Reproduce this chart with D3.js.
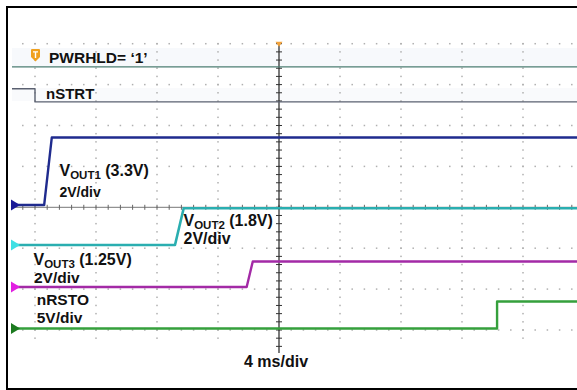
<!DOCTYPE html>
<html>
<head>
<meta charset="utf-8">
<script src="https://cdn.jsdelivr.net/npm/d3@7"></script>
<style>
  html, body { margin: 0; padding: 0; background: #fff; }
  svg { display: block; }
  text { font-family: "Liberation Sans", Arial, sans-serif; font-weight: bold; fill: #111; }
</style>
</head>
<body>
<script>
// Sequence captured on a 4-channel scope plus two logic lines (time in ms, relative to trigger)
const pwrhldT = [-17.6, 19.6];
const pwrhldLvl = [1, 1];
const nstrtT = [-17.6, -16.0, -16.0, 19.6];
const nstrtLvl = [1, 1, 0, 0];
const vout1T = [-17.6, -15.4, -14.9, 19.6];
const vout1V = [0, 0, 3.3, 3.3];
const vout2T = [-17.6, -6.82, -6.25, 19.6];
const vout2V = [0, 0, 1.8, 1.8];
const vout3T = [-17.6, -2.12, -1.72, 19.6];
const vout3V = [0, 0, 1.25, 1.25];
const nrstoT = [-17.6, 14.3, 14.3, 19.6];
const nrstoV = [0, 0, 3.3, 3.3];
const timeDivMs = 4;
const timeTicks = d3.range(-16, 17, 4);
const vDivTicks = d3.range(-3, 5, 1);

const W = 577, H = 390;
const svg = d3.select("body").append("svg").attr("width", W).attr("height", H);

// Screen: 10 horizontal divisions, 8 vertical divisions
const x = d3.scaleLinear().domain([-5 * timeDivMs, 5 * timeDivMs]).range([279 - 5 * 61, 279 + 5 * 61]);
const yDiv = d3.scaleLinear().domain([-4, 4]).range([207.3 + 4 * 40.9, 207.3 - 4 * 40.9]);

const plotL = 12, plotR = 577, gridTop = yDiv(4), gridBot = 346;

svg.append("defs").append("clipPath").attr("id", "plot")
  .append("rect").attr("x", plotL).attr("y", 30).attr("width", plotR - plotL).attr("height", 330);

// Faint persistence bands above the logic lines
svg.append("rect").attr("x", plotL).attr("y", 48).attr("width", plotR - plotL).attr("height", 18).attr("fill", "#f7f9fc");
svg.append("rect").attr("x", plotL).attr("y", 88).attr("width", plotR - plotL).attr("height", 13).attr("fill", "#f9fafc");

// Graticule dots
const grid = svg.append("g").attr("fill", "#b0b0b0");
timeTicks.forEach(t => {
  if (t === 0) return;
  const gx = x(t);
  for (let d = 4; yDiv(d) <= gridBot; d -= 0.2) {
    grid.append("rect").attr("x", gx - 0.75).attr("y", yDiv(d) - 0.75).attr("width", 1.5).attr("height", 1.5);
  }
});
vDivTicks.forEach(d => {
  if (d === 0) return;
  const gy = yDiv(d);
  for (let t = -20; t <= 20.01; t += timeDivMs / 5) {
    const px = x(t);
    if (px < plotL || px > plotR) continue;
    grid.append("rect").attr("x", px - 0.75).attr("y", gy - 0.75).attr("width", 1.5).attr("height", 1.5);
  }
});

// Centre axes with minor ticks
const axes = svg.append("g");
axes.append("line").attr("x1", plotL).attr("x2", plotR).attr("y1", yDiv(0)).attr("y2", yDiv(0))
  .attr("stroke", "#777").attr("stroke-width", 1);
for (let t = -20; t <= 20.01; t += timeDivMs / 5) {
  const px = x(t);
  if (px < plotL || px > plotR) continue;
  axes.append("line").attr("x1", px).attr("x2", px).attr("y1", yDiv(0) - 2.5).attr("y2", yDiv(0) + 2.5)
    .attr("stroke", "#666").attr("stroke-width", 1);
}
axes.append("line").attr("x1", x(0)).attr("x2", x(0)).attr("y1", gridTop).attr("y2", 353)
  .attr("stroke", "#222").attr("stroke-width", 1.2);
for (let d = 4; yDiv(d) <= 352; d -= 0.2) {
  axes.append("line").attr("x1", x(0) - 3).attr("x2", x(0) + 3).attr("y1", yDiv(d)).attr("y2", yDiv(d))
    .attr("stroke", "#333").attr("stroke-width", 1);
}

// Traces
const traces = svg.append("g").attr("clip-path", "url(#plot)").attr("fill", "none");
function analog(ts, vs, offsetDiv, vPerDiv) {
  return ts.map((t, i) => [x(t), yDiv(offsetDiv + vs[i] / vPerDiv)]);
}
function logic(ts, lv, offsetDiv) {
  return ts.map((t, i) => [x(t), yDiv(offsetDiv + lv[i] * 0.32)]);
}
const line = d3.line();
const channels = [
  { pts: logic(pwrhldT, pwrhldLvl, 3.113), color: "#4b7d72", w: 1.4, marker: null },
  { pts: logic(nstrtT, nstrtLvl, 2.577), color: "#5a6070", w: 1.4, marker: null },
  { pts: analog(vout1T, vout1V, 0.056, 2), color: "#1f2b8e", w: 2.4, marker: "#1a1a96", off: 0.056 },
  { pts: analog(vout2T, vout2V, -0.922, 2), color: "#2aaeb0", w: 2.6, marker: "#3fe0e4", off: -0.922 },
  { pts: analog(vout3T, vout3V, -1.949, 2), color: "#a32aa6", w: 2.4, marker: "#e21fe2", off: -1.949 },
  { pts: analog(nrstoT, nrstoV, -2.963, 5), color: "#35a03c", w: 2.4, marker: "#1c7a1f", off: -2.963 }
];
channels.forEach(c => {
  traces.append("path").attr("d", line(c.pts)).attr("stroke", c.color).attr("stroke-width", c.w)
    .attr("stroke-linejoin", "round");
});

// Channel ground markers on the left edge
channels.filter(c => c.marker).forEach(c => {
  const my = yDiv(c.off);
  svg.append("path").attr("d", `M11,${my - 5.5} L20,${my} L11,${my + 5.5} Z`).attr("fill", c.marker);
});

// Trigger position marker
svg.append("path").attr("d", `M${x(0) - 3.5},${gridTop - 2} L${x(0) + 3.5},${gridTop - 2} L${x(0)},${gridTop + 3} Z`)
  .attr("fill", "#f2a23a");

// Logic channel badge
const badge = svg.append("g").attr("transform", "translate(31,49)");
badge.append("path").attr("d", "M1,0 H8 Q9,0 9,1 V8 L4.5,12.5 L0,8 V1 Q0,0 1,0 Z").attr("fill", "#f0a01e");
badge.append("path").attr("d", "M2,2.2 H7 V3.6 H5.2 V9 H3.8 V3.6 H2 Z").attr("fill", "#fff");

// Labels
function label(xp, yp, size, parts) {
  const t = svg.append("text").attr("x", xp).attr("y", yp).style("font-size", size + "px");
  parts.forEach(p => {
    const s = t.append("tspan").text(p.s);
    if (p.sub) s.style("font-size", p.sub + "px").attr("dy", 3);
    if (p.up) s.attr("dy", -3);
  });
  return t;
}
label(49, 63.3, 15.5, [{ s: "PWRHLD= \u20181\u2019" }]);
label(46, 99.3, 15, [{ s: "nSTRT" }]);
label(59.5, 176, 16, [{ s: "V" }, { s: "OUT1", sub: 11.5 }, { s: " (3.3V)", up: true }]);
label(59.5, 197, 14, [{ s: "2V/div" }]);
label(183.5, 226, 16, [{ s: "V" }, { s: "OUT2", sub: 11.5 }, { s: " (1.8V)", up: true }]);
label(183.5, 244, 16, [{ s: "2V/div" }]);
label(33.5, 265, 16, [{ s: "V" }, { s: "OUT3", sub: 11.5 }, { s: " (1.25V)", up: true }]);
label(34, 283.3, 15.5, [{ s: "2V/div" }]);
label(36.7, 305, 15.5, [{ s: "nRSTO" }]);
label(36.7, 323.3, 15.5, [{ s: "5V/div" }]);
label(244, 366.7, 16, [{ s: "4 ms/div" }]);

// Screen frame
svg.append("rect").attr("x", 7).attr("y", 7).attr("width", W).attr("height", 382)
  .attr("fill", "none").attr("stroke", "#000").attr("stroke-width", 2);
</script>
</body>
</html>
